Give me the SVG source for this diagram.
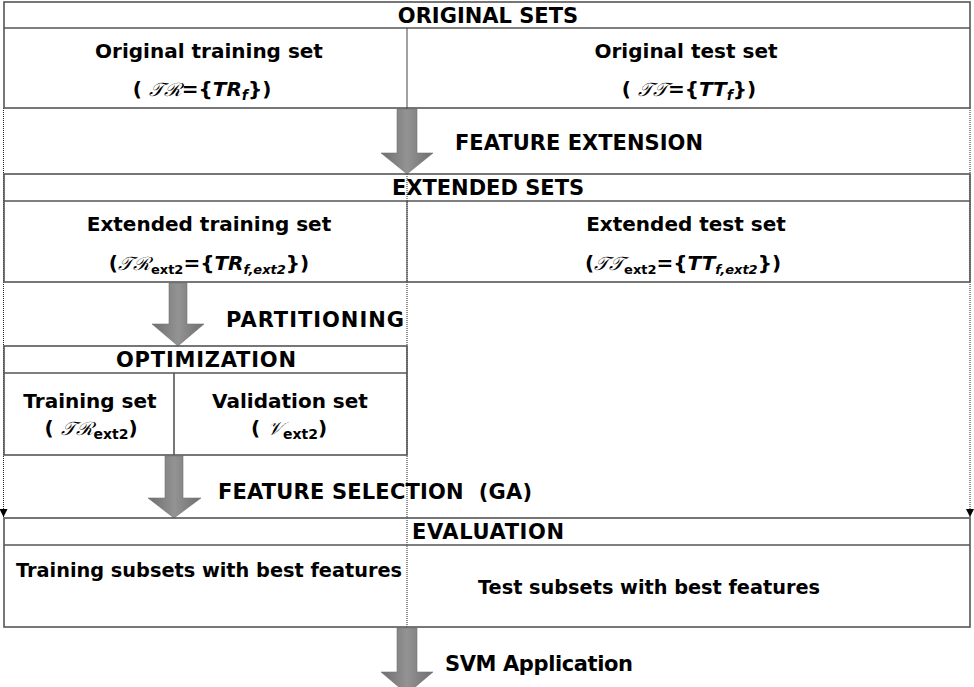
<svg xmlns="http://www.w3.org/2000/svg" width="974" height="687" viewBox="0 0 974 687">
  <defs>
    <style>
      .box{fill:none;stroke:#555;stroke-width:1.6}
      .sep{stroke:#555;stroke-width:1.6}
      .thin{stroke:#444;stroke-width:1}
      .dot{fill:none;stroke:#222;stroke-width:1;stroke-dasharray:1 1}
      .big{fill:url(#shade);stroke:#767676;stroke-width:0.6}
      .hd{font-family:"DejaVu Sans",Verdana,sans-serif;font-weight:bold;font-size:21px;fill:#000}
      .tx{font-family:"DejaVu Sans",Verdana,sans-serif;font-weight:bold;font-size:20px;fill:#000}
      .scr{font-family:"DejaVu Serif","Liberation Serif",serif;font-weight:normal;font-style:italic;font-size:19px}
      .it{font-style:italic}
      .sub{font-size:14px}
      .sub2{font-size:13px}
      .pre{white-space:pre}
    </style>
    <linearGradient id="shade" x1="0" y1="0" x2="1" y2="0">
      <stop offset="0" stop-color="#6e6e6e"/>
      <stop offset="0.5" stop-color="#939393"/>
      <stop offset="1" stop-color="#6e6e6e"/>
    </linearGradient>
    <marker id="tip" markerUnits="userSpaceOnUse" markerWidth="8" markerHeight="9" refX="4" refY="8" orient="0" viewBox="0 0 8 9">
      <path d="M0,0 L8,0 L4,8 Z" fill="#000"/>
    </marker>
  </defs>

  <rect x="0" y="0" width="974" height="687" fill="#fff"/>

  <!-- connectors: dotted guides and the big flow arrows -->
  <g id="connectors">
    <line class="dot" x1="407" y1="108" x2="407" y2="627"/>
    <line class="dot" x1="3.5" y1="108" x2="3.5" y2="517" marker-end="url(#tip)"/>
    <line class="dot" x1="970" y1="108" x2="970" y2="517" marker-end="url(#tip)"/>

    <!-- feature extension -->
    <path class="big" d="M397,109 H417 V153 H433 L407,174 L381,153 H397 Z"/>
    <text class="hd" x="455" y="150" textLength="248" lengthAdjust="spacing">FEATURE EXTENSION</text>

    <!-- partitioning -->
    <path class="big" d="M169,283 H187 V324 H204 L178,346 L152,324 H169 Z"/>
    <text class="hd" x="226" y="327" textLength="178" lengthAdjust="spacing">PARTITIONING</text>

    <!-- feature selection -->
    <path class="big" d="M165,456 H183 V498 H201 L174,518 L148,498 H165 Z"/>
    <text class="hd pre" x="218" y="499" textLength="314" lengthAdjust="spacing">FEATURE SELECTION  (GA)</text>

    <!-- svm application -->
    <path class="big" d="M397,628 H417 V672 H433 L407,694 L381,672 H397 Z"/>
    <text class="hd" x="445" y="671" textLength="188" lengthAdjust="spacing">SVM Application</text>
  </g>

  <!-- original sets -->
  <g id="original-sets">
    <rect class="box" x="4" y="2" width="966" height="106"/>
    <line class="sep" x1="4" y1="28" x2="970" y2="28"/>
    <line class="thin" x1="407" y1="28" x2="407" y2="108"/>
    <text class="hd" x="488" y="23" text-anchor="middle">ORIGINAL SETS</text>
    <text class="tx" x="209" y="58" text-anchor="middle">Original training set</text>
    <text class="tx" x="202" y="96" text-anchor="middle">( <tspan class="scr">𝒯ℛ</tspan>={<tspan class="it">TR</tspan><tspan class="it sub" dy="4">f</tspan><tspan dy="-4">})</tspan></text>
    <text class="tx" x="686" y="58" text-anchor="middle">Original test set</text>
    <text class="tx" x="689" y="96" text-anchor="middle">( <tspan class="scr">𝒯𝒯</tspan>={<tspan class="it">TT</tspan><tspan class="it sub" dy="4">f</tspan><tspan dy="-4">})</tspan></text>
  </g>

  <!-- extended sets -->
  <g id="extended-sets">
    <rect class="box" x="4" y="174" width="966" height="108"/>
    <line class="sep" x1="4" y1="201" x2="970" y2="201"/>
    <line class="thin" x1="407" y1="201" x2="407" y2="282"/>
    <text class="hd" x="488" y="195" text-anchor="middle">EXTENDED SETS</text>
    <text class="tx" x="209" y="231" text-anchor="middle">Extended training set</text>
    <text class="tx" x="209" y="270" text-anchor="middle">(<tspan class="scr">𝒯ℛ</tspan><tspan class="sub2" dy="4">ext2</tspan><tspan dy="-4">={</tspan><tspan class="it">TR</tspan><tspan class="it sub2" dy="4">f,ext2</tspan><tspan dy="-4">})</tspan></text>
    <text class="tx" x="686" y="231" text-anchor="middle">Extended test set</text>
    <text class="tx" x="683" y="270" text-anchor="middle">(<tspan class="scr">𝒯𝒯</tspan><tspan class="sub2" dy="4">ext2</tspan><tspan dy="-4">={</tspan><tspan class="it">TT</tspan><tspan class="it sub2" dy="4">f,ext2</tspan><tspan dy="-4">})</tspan></text>
  </g>

  <!-- optimization -->
  <g id="optimization">
    <rect class="box" x="4" y="346" width="403" height="109"/>
    <line class="sep" x1="4" y1="373" x2="407" y2="373"/>
    <line class="sep" x1="174" y1="373" x2="174" y2="455"/>
    <text class="hd" x="206" y="367" text-anchor="middle" textLength="180" lengthAdjust="spacing">OPTIMIZATION</text>
    <text class="tx" x="90" y="408" text-anchor="middle">Training set</text>
    <text class="tx" x="91" y="435" text-anchor="middle">( <tspan class="scr">𝒯ℛ</tspan><tspan class="sub" dy="4">ext2</tspan><tspan dy="-4">)</tspan></text>
    <text class="tx" x="290" y="408" text-anchor="middle">Validation set</text>
    <text class="tx" x="289" y="435" text-anchor="middle">( <tspan class="scr">𝒱</tspan><tspan class="sub" dy="4">ext2</tspan><tspan dy="-4">)</tspan></text>
  </g>

  <!-- evaluation -->
  <g id="evaluation">
    <rect class="box" x="4" y="518" width="966" height="109"/>
    <line class="sep" x1="4" y1="545" x2="970" y2="545"/>
    <text class="hd" x="412" y="539" textLength="152" lengthAdjust="spacing">EVALUATION</text>
    <text class="tx" x="16" y="577" textLength="386" lengthAdjust="spacingAndGlyphs">Training subsets with best features</text>
    <text class="tx" x="649" y="594" text-anchor="middle" textLength="342" lengthAdjust="spacingAndGlyphs">Test subsets with best features</text>
  </g>
</svg>
